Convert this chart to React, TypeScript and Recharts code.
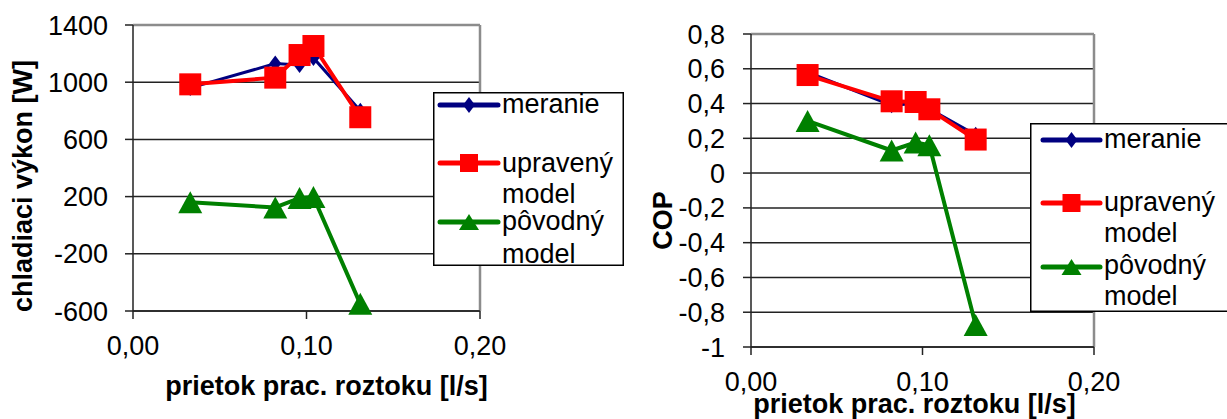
import React from "react";
import { CartesianGrid, Line, LineChart, ReferenceLine, XAxis, YAxis } from "recharts";

const FONT = '"Liberation Sans", Arial, Helvetica, sans-serif';

// flow of working solution [l/s]
const flow = [0.033, 0.082, 0.096, 0.104, 0.131];

// left chart: cooling power [W]
const powerMeasured = [960, 1130, 1120, 1170, 800];
const powerAdjusted = [985, 1032, 1190, 1253, 755];
const powerOriginal = [160, 124, 190, 197, -550];

// right chart: COP
const copMeasured = [0.58, 0.39, 0.4, 0.37, 0.22];
const copAdjusted = [0.564, 0.413, 0.409, 0.367, 0.193];
const copOriginal = [0.3, 0.13, 0.176, 0.16, -0.873];

const xTicks = [0, 0.1, 0.2];
const powerTicks = [-600, -200, 200, 600, 1000, 1400];
const copTicks = [-1, -0.8, -0.6, -0.4, -0.2, 0, 0.2, 0.4, 0.6, 0.8];

const seriesNames = ["meranie", "upravený model", "pôvodný model"];
const xTitle = "prietok prac. roztoku [l/s]";

const NAVY = "#000080";
const RED = "#ff0000";
const GREEN = "#008000";
const GRID = "#222222";
const BORDER = "#8c8c8c";

const powerData = flow.map((x, i) => ({
  x,
  measured: powerMeasured[i],
  adjusted: powerAdjusted[i],
  original: powerOriginal[i],
}));

const copData = flow.map((x, i) => ({
  x,
  measured: copMeasured[i],
  adjusted: copAdjusted[i],
  original: copOriginal[i],
}));

const fmt = (v: number, digits?: number) =>
  (digits !== undefined ? v.toFixed(digits) : String(v)).replace(".", ",");

function Diamond({ cx, cy, w = 6, h = 8 }: any) {
  return <path d={`M${cx},${cy - h}L${cx + w},${cy}L${cx},${cy + h}L${cx - w},${cy}Z`} fill={NAVY} />;
}

function Square({ cx, cy, s = 22 }: any) {
  return <rect x={cx - s / 2} y={cy - s / 2} width={s} height={s} fill={RED} />;
}

function Triangle({ cx, cy, w = 24, h = 22 }: any) {
  return <path d={`M${cx},${cy - h / 2}L${cx + w / 2},${cy + h / 2}L${cx - w / 2},${cy + h / 2}Z`} fill={GREEN} />;
}

const diamondDot = (p: any) => <Diamond key={`d${p.index}`} cx={p.cx} cy={p.cy} />;
const squareDot = (p: any) => <Square key={`s${p.index}`} cx={p.cx} cy={p.cy} />;
const triangleDot = (p: any) => <Triangle key={`t${p.index}`} cx={p.cx} cy={p.cy} />;

function XTitle({ viewBox, shiftX = 0, shiftY = 0 }: any) {
  const vb = viewBox || { x: 0, y: 0, width: 0, height: 0 };
  return (
    <text x={vb.x + vb.width / 2 + shiftX} y={vb.y + shiftY} textAnchor="middle" fontFamily={FONT} fontSize={27} fontWeight="bold" fill="#000">
      {xTitle}
    </text>
  );
}

function YTitle({ viewBox, title, baseX = 32, shiftY = 0 }: any) {
  const vb = viewBox || { x: 0, y: 0, width: 0, height: 0 };
  const cy = vb.y + vb.height / 2 + shiftY;
  return (
    <text x={baseX} y={cy} transform={`rotate(-90 ${baseX} ${cy})`} textAnchor="middle" fontFamily={FONT} fontSize={27} fontWeight="bold" fill="#000">
      {title}
    </text>
  );
}

function LegendBox({ left, top, width, height, rows, lineX, textX }: any) {
  const icons = [
    (cx: number, cy: number) => <Diamond cx={cx} cy={cy} w={6} h={8} />,
    (cx: number, cy: number) => <Square cx={cx} cy={cy} s={18} />,
    (cx: number, cy: number) => <Triangle cx={cx} cy={cy} w={20} h={16} />,
  ];
  const colors = [NAVY, RED, GREEN];
  return (
    <svg style={{ position: "absolute", left, top, zIndex: 5 }} width={width} height={height}>
      <rect x={0.75} y={0.75} width={width - 1.5} height={height - 1.5} fill="#fff" stroke="#000" strokeWidth={1.5} />
      {seriesNames.map((name, i) => {
        const r = rows[i];
        const words = name.split(" ");
        return (
          <g key={name}>
            <line x1={lineX[0]} x2={lineX[1]} y1={r.line} y2={r.line} stroke={colors[i]} strokeWidth={5} strokeLinecap="round" />
            {icons[i]((lineX[0] + lineX[1]) / 2, r.line)}
            {words.map((w, j) => (
              <text key={w} x={textX} y={r.base[j]} fontFamily={FONT} fontSize={27} fill="#000">
                {w}
              </text>
            ))}
          </g>
        );
      })}
    </svg>
  );
}

export default function App() {
  return (
    <div style={{ position: "absolute", left: 0, top: 0, width: 1227, height: 419, overflow: "hidden", background: "#fff" }}>
      <div style={{ position: "absolute", left: 0, top: 0 }}>
        <LineChart width={630} height={419} data={powerData} margin={{ top: 25, right: 150, bottom: 0, left: 0 }}>
          <CartesianGrid vertical={false} stroke={GRID} strokeWidth={1.5} />
          <XAxis
            dataKey="x"
            type="number"
            domain={[0, 0.2]}
            ticks={xTicks}
            interval={0}
            tickFormatter={(v: number) => fmt(v, 2)}
            tickSize={8}
            tickMargin={17}
            height={108}
            stroke={GRID}
            strokeWidth={1.5}
            tick={{ fontSize: 27, fill: "#000", fontFamily: FONT }}
            label={<XTitle shiftX={20} shiftY={84} />}
          />
          <YAxis
            type="number"
            domain={[-600, 1400]}
            ticks={powerTicks}
            interval={0}
            tickSize={8}
            tickMargin={17}
            width={133}
            stroke={GRID}
            strokeWidth={1.5}
            tick={{ fontSize: 27, fill: "#000", fontFamily: FONT }}
            label={<YTitle title="chladiaci výkon [W]" baseX={32} shiftY={18} />}
          />
          <ReferenceLine y={1400} stroke={BORDER} strokeWidth={2.5} />
          <ReferenceLine x={0.2} stroke={BORDER} strokeWidth={2.5} />
          <Line dataKey="measured" name={seriesNames[0]} stroke={NAVY} strokeWidth={3} dot={diamondDot} isAnimationActive={false} />
          <Line dataKey="adjusted" name={seriesNames[1]} stroke={RED} strokeWidth={4} strokeLinejoin="round" dot={squareDot} isAnimationActive={false} />
          <Line dataKey="original" name={seriesNames[2]} stroke={GREEN} strokeWidth={4} strokeLinejoin="round" dot={triangleDot} isAnimationActive={false} />
        </LineChart>
      </div>

      <div style={{ position: "absolute", left: 620, top: 0 }}>
        <LineChart width={607} height={419} data={copData} margin={{ top: 34, right: 133, bottom: 0, left: 0 }}>
          <CartesianGrid vertical={false} stroke={GRID} strokeWidth={1.5} />
          <XAxis
            dataKey="x"
            type="number"
            domain={[0, 0.2]}
            ticks={xTicks}
            interval={0}
            tickFormatter={(v: number) => fmt(v, 2)}
            tickSize={8}
            tickMargin={17}
            height={72}
            stroke={GRID}
            strokeWidth={1.5}
            tick={{ fontSize: 27, fill: "#000", fontFamily: FONT }}
            label={<XTitle shiftX={-8} shiftY={66} />}
          />
          <YAxis
            type="number"
            domain={[-1, 0.8]}
            ticks={copTicks}
            interval={0}
            tickFormatter={(v: number) => fmt(v)}
            tickSize={8}
            tickMargin={18}
            width={131}
            stroke={GRID}
            strokeWidth={1.5}
            tick={{ fontSize: 27, fill: "#000", fontFamily: FONT }}
            label={<YTitle title="COP" baseX={52} shiftY={30} />}
          />
          <ReferenceLine y={0.8} stroke={BORDER} strokeWidth={2.5} />
          <ReferenceLine x={0.2} stroke={BORDER} strokeWidth={2.5} />
          <Line dataKey="measured" name={seriesNames[0]} stroke={NAVY} strokeWidth={3} dot={diamondDot} isAnimationActive={false} />
          <Line dataKey="adjusted" name={seriesNames[1]} stroke={RED} strokeWidth={4} strokeLinejoin="round" dot={squareDot} isAnimationActive={false} />
          <Line dataKey="original" name={seriesNames[2]} stroke={GREEN} strokeWidth={4} strokeLinejoin="round" dot={triangleDot} isAnimationActive={false} />
        </LineChart>
      </div>

      <LegendBox
        left={433}
        top={92}
        width={191}
        height={174}
        lineX={[7, 65]}
        textX={69}
        rows={[
          { line: 13, base: [21] },
          { line: 71, base: [80, 111] },
          { line: 130, base: [138, 171] },
        ]}
      />
      <LegendBox
        left={1030}
        top={123}
        width={215}
        height={189}
        lineX={[13, 70]}
        textX={74}
        rows={[
          { line: 17, base: [25] },
          { line: 80, base: [88, 119] },
          { line: 144, base: [151, 182] },
        ]}
      />
    </div>
  );
}
